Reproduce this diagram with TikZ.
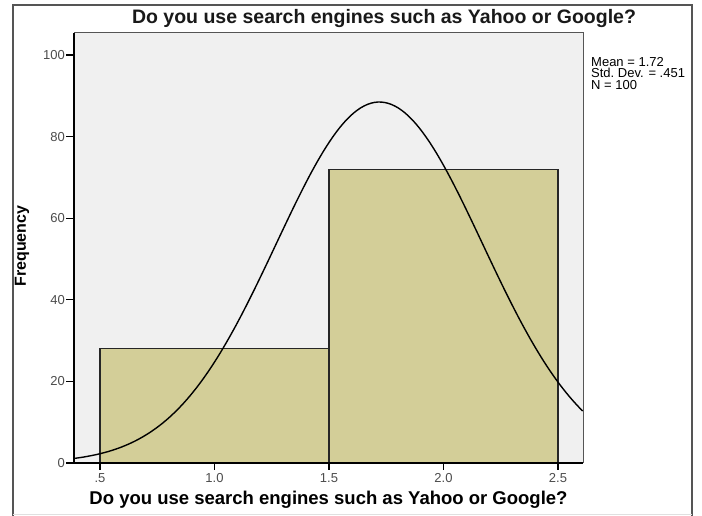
\documentclass[tikz,border=0pt]{standalone}
\usepackage{fontspec}
\setmainfont{Liberation Sans}
\usetikzlibrary{positioning}
\definecolor{plotbg}{RGB}{240,240,240}
\definecolor{barfill}{RGB}{211,206,152}
\definecolor{framegray}{RGB}{85,85,85}
\tikzset{
  ticklabel/.style={font=\fontsize{13}{13}\selectfont, text=black!70, inner sep=1pt},
  histbar/.style={draw=black!85, fill=barfill, line width=1.1pt},
}
\begin{document}
\begin{tikzpicture}[x=1pt,y=1pt]
  \useasboundingbox (0,0) rectangle (702,516);
  \fill[white] (0,0) rectangle (702,516);
  % outer frame
  \draw[framegray, line width=1.3pt] (13,0) -- (13,511) -- (692,511) -- (692,0);
  \draw[black!12] (13,2) -- (692,2);
  % plot area
  \fill[plotbg] (74,53) rectangle (583,483);
  \begin{scope}[shift={(-14.5,53)}, x=229pt, y=4.08pt]
    \draw[histbar] (0.5,0) rectangle (1.5,28);
    \draw[histbar] (1.5,0) rectangle (2.5,72);
    % normal curve, mean 1.72, sd .451, N = 100
    \draw[line width=1.4pt, domain=0.3865:2.609, samples=150, smooth]
      plot (\x, {88.46*exp(-((\x-1.72)^2)/(2*0.451^2))});
  \end{scope}
  \draw[framegray, line width=1pt] (74,483) -- (583,483) -- (583,53);
  \draw[line width=1.2pt] (74,483) -- (74,53) -- (583,53);

  % y axis
  \foreach \v in {0,20,...,100} {
    \draw[line width=1.1pt] (66,{53+4.08*\v}) -- (74,{53+4.08*\v});
    \node[ticklabel, anchor=east] (ytick\v) at (66,{53+4.08*\v}) {\v};
  }
  % x axis
  \foreach \v/\lab [count=\i] in {0.5/.5, 1.0/1.0, 1.5/1.5, 2.0/2.0, 2.5/2.5} {
    \draw[line width=1.1pt] ({-14.5+229*\v},53) -- ({-14.5+229*\v},46);
    \node[ticklabel, anchor=north] (xtick\i) at ({-14.5+229*\v},44) {\lab};
  }

  \node[font=\bfseries\fontsize{19.5}{20}\selectfont, text=black!90] (title) at (384,497)
    {Do you use search engines such as Yahoo or Google?};
  \node[font=\bfseries\fontsize{18.5}{19}\selectfont] (xlabel) at (328.5,16)
    {Do you use search engines such as Yahoo or Google?};
  \node[font=\bfseries\fontsize{16}{16}\selectfont, rotate=90] (ylabel) at (22,270)
    {Frequency};
  \node[font=\fontsize{13}{11.5}\selectfont, align=left, anchor=north west, inner sep=0pt] (stats) at (591,459)
    {Mean = 1.72\\Std.\ Dev. = .451\\N = 100};
\end{tikzpicture}
\end{document}
